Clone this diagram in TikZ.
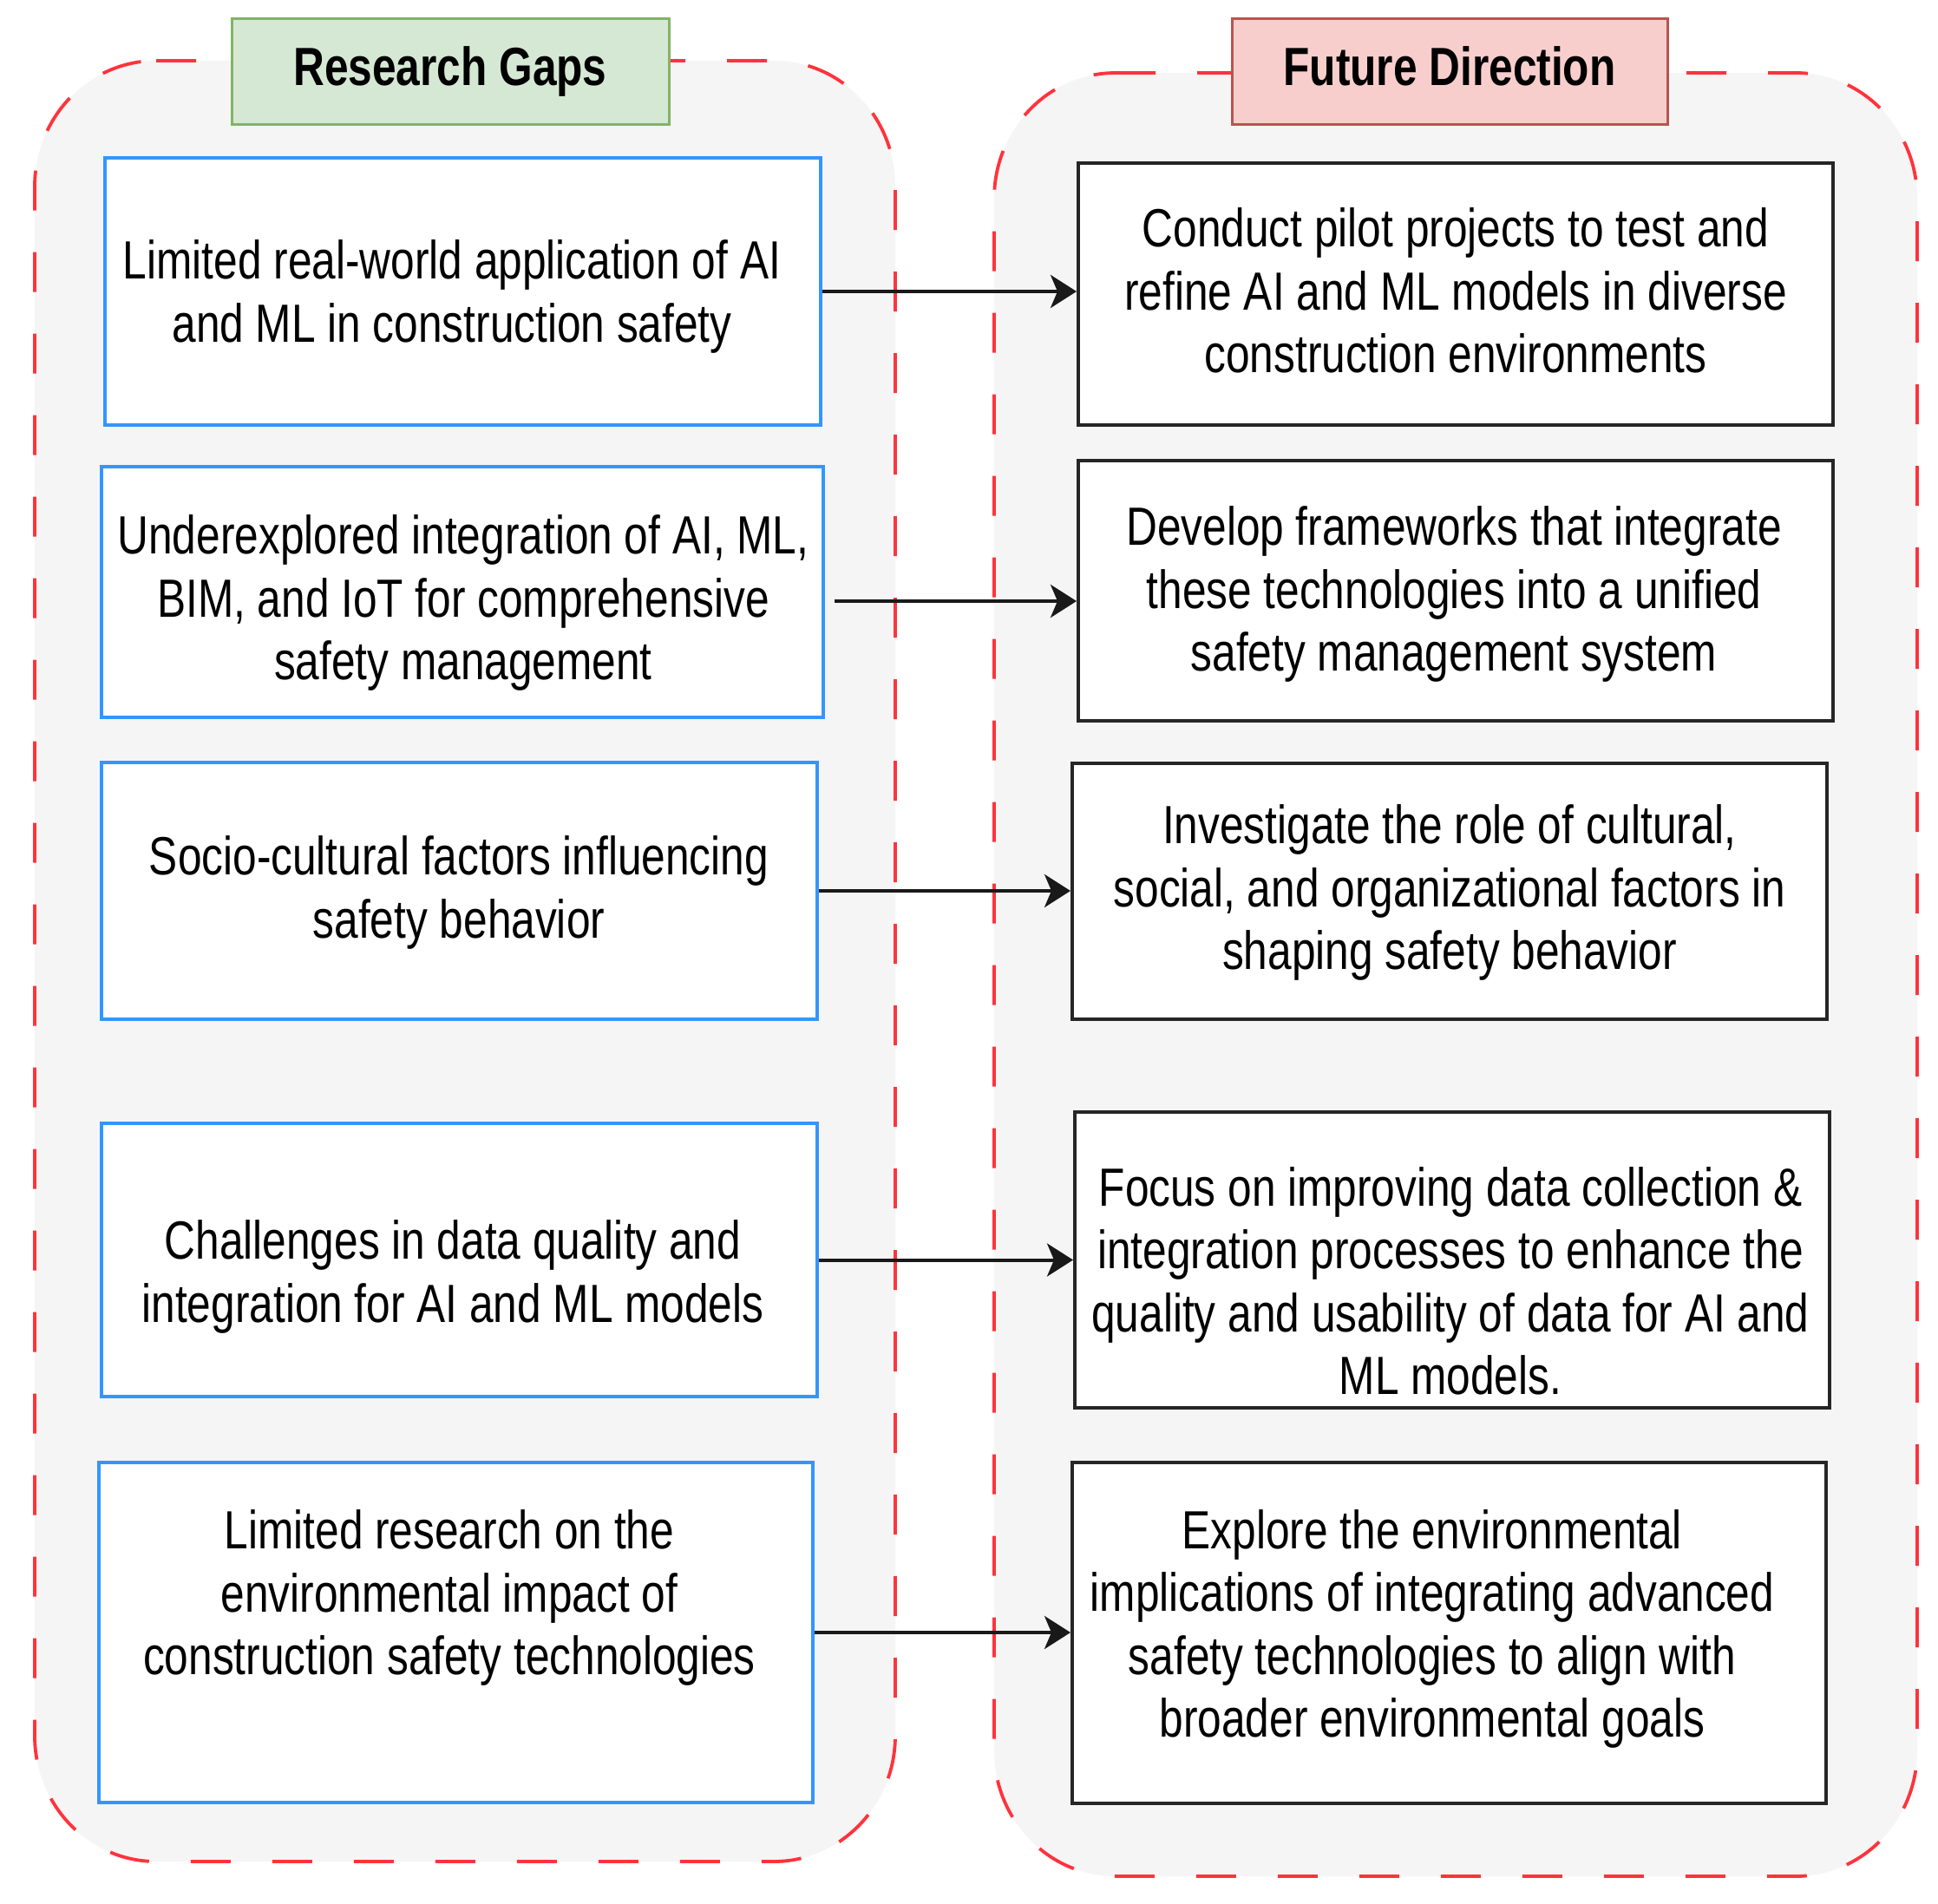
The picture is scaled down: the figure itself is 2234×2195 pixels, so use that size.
\documentclass[tikz,border=0pt]{standalone}
\usepackage{fontspec}
\setmainfont{Liberation Sans}[FakeStretch=0.8]
\usetikzlibrary{arrows.meta,calc}
\definecolor{gapblue}{RGB}{51,150,255}
\definecolor{dashred}{RGB}{255,51,60}
\definecolor{panelgray}{RGB}{245,245,245}
\definecolor{greenfill}{RGB}{213,232,212}
\definecolor{greenline}{RGB}{130,179,102}
\definecolor{redfill}{RGB}{248,206,204}
\definecolor{redline}{RGB}{184,84,80}
\begin{document}
\begin{tikzpicture}[x=0.5pt,y=0.5pt,
  panel/.style={fill=panelgray, draw=dashred, line width=1.9pt, dash pattern=on 23pt off 24pt},
  gapbox/.style={draw=gapblue, fill=white, line width=1.8pt, inner sep=0pt},
  dirbox/.style={draw=black!85, fill=white, line width=2pt, inner sep=0pt},
  boxtext/.style={align=center, font=\fontsize{31}{36.2}\selectfont, inner sep=0pt, text=black},
  head/.style={line width=1.5pt, inner sep=0pt, text height=23pt, text depth=6.5pt, font=\fontsize{31}{36}\selectfont\bfseries},
  link/.style={line width=2pt, -{Stealth[length=15pt,width=19pt,inset=4pt]}, black!90},
]
\fill[white] (0,0) rectangle (2234,-2195);
\useasboundingbox (0,0) rectangle (2234,-2195);

% containers
\path[panel] (180,-70) -- (892,-70)
  arc[start angle=90,end angle=0,x radius=70pt,y radius=72.5pt] -- (1032,-2001)
  arc[start angle=0,end angle=-90,x radius=70pt,y radius=72.5pt] -- (180,-2146)
  arc[start angle=270,end angle=180,x radius=70pt,y radius=72.5pt] -- (40,-215)
  arc[start angle=180,end angle=90,x radius=70pt,y radius=72.5pt] -- cycle;
\path[panel] (1286,-84) -- (2070,-84)
  arc[start angle=90,end angle=0,x radius=70pt,y radius=72.5pt] -- (2210,-2018)
  arc[start angle=0,end angle=-90,x radius=70pt,y radius=72.5pt] -- (1286,-2163)
  arc[start angle=270,end angle=180,x radius=70pt,y radius=72.5pt] -- (1146,-229)
  arc[start angle=180,end angle=90,x radius=70pt,y radius=72.5pt] -- cycle;

% headers
\node[head, draw=greenline, fill=greenfill, minimum width=252pt, minimum height=61pt] (hg) at (519,-82) {Research Gaps};
\node[head, draw=redline, fill=redfill, minimum width=251pt, minimum height=61pt] (hf) at (1671,-82) {Future Direction};

% left boxes
\node[gapbox, minimum width=412.5pt, minimum height=154pt] (l1) at (533.5,-336) {};
\node[gapbox, minimum width=416pt, minimum height=144.5pt] (l2) at (533,-682.5) {};
\node[gapbox, minimum width=412.5pt, minimum height=148pt] (l3) at (529.5,-1027) {};
\node[gapbox, minimum width=412.5pt, minimum height=157.5pt] (l4) at (529.5,-1452.5) {};
\node[gapbox, minimum width=411.5pt, minimum height=196pt] (l5) at (525.5,-1882) {};

% right boxes
\node[dirbox, minimum width=435pt, minimum height=151pt] (r1) at (1678,-339) {};
\node[dirbox, minimum width=435pt, minimum height=150pt] (r2) at (1678,-681) {};
\node[dirbox, minimum width=435pt, minimum height=147.5pt] (r3) at (1671,-1027.5) {};
\node[dirbox, minimum width=435pt, minimum height=170.5pt] (r4) at (1674,-1452.5) {};
\node[dirbox, minimum width=434.5pt, minimum height=196.5pt] (r5) at (1670.5,-1882.5) {};

% texts
\node[boxtext] (l1t) at (521,-342) {Limited real-world application of AI\\and ML in construction safety};
\node[boxtext] (l2t) at (534,-695) {Underexplored integration of AI, ML,\\BIM, and IoT for comprehensive\\safety management};
\node[boxtext] (l3t) at (529,-1029) {Socio-cultural factors influencing\\safety behavior};
\node[boxtext] (l4t) at (522,-1472) {Challenges in data quality and\\integration for AI and ML models};
\node[boxtext] (l5t) at (518,-1842) {Limited research on the\\environmental impact of\\construction safety technologies};
\node[boxtext] (r1t) at (1678,-335) {Conduct pilot projects to test and\\refine AI and ML models in diverse\\construction environments};
\node[boxtext] (r2t) at (1676,-685) {Develop frameworks that integrate\\these technologies into a unified\\safety management system};
\node[boxtext] (r3t) at (1671,-1029) {Investigate the role of cultural,\\social, and organizational factors in\\shaping safety behavior};
\node[boxtext] (r4t) at (1672,-1477) {Focus on improving data collection \&\\integration processes to enhance the\\quality and usability of data for AI and\\ML models.};
\node[boxtext] (r5t) at (1651,-1878) {Explore the environmental\\implications of integrating advanced\\safety technologies to align with\\broader environmental goals};

% arrows
\draw[link] (l1.east) -- (l1.east -| r1.west);
\coordinate (a2s) at ($(l2.east)+(11,-10.5)$);
\draw[link] (a2s) -- (a2s -| r2.west);
\draw[link] (l3.east) -- (l3.east -| r3.west);
\draw[link] (l4.east) -- (l4.east -| r4.west);
\draw[link] (l5.east) -- (l5.east -| r5.west);
\end{tikzpicture}
\end{document}
